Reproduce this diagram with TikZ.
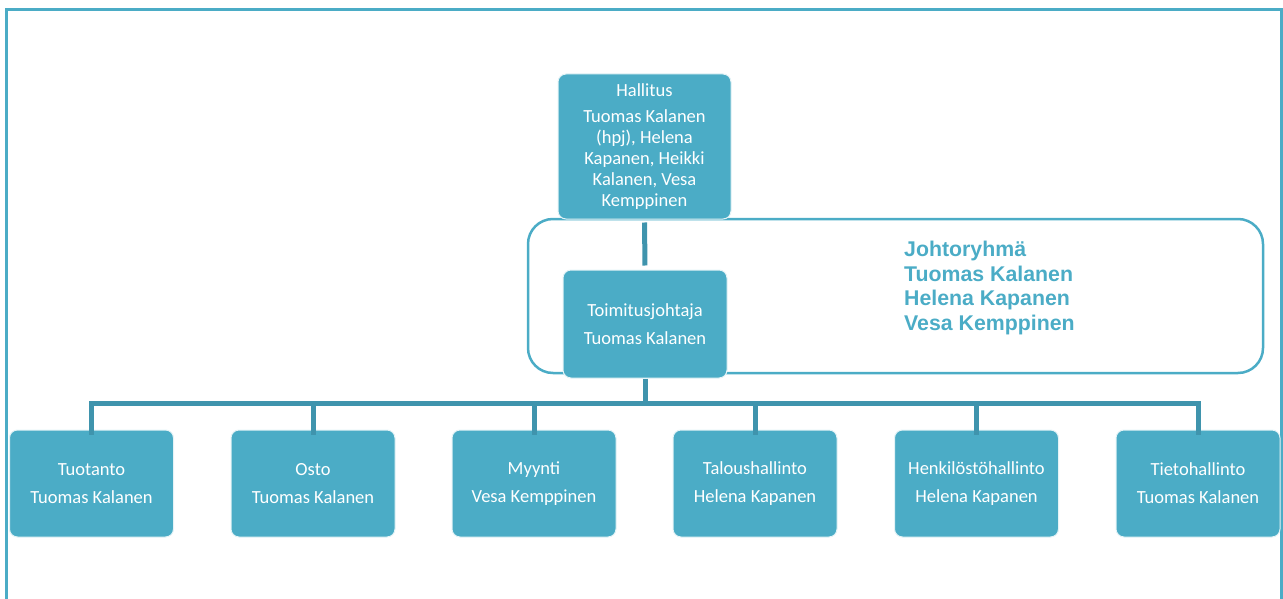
\documentclass[tikz,border=0pt]{standalone}
\usepackage{fontspec}
\setmainfont{Carlito}
\newfontfamily\arialfont{Liberation Sans}
\definecolor{boxblue}{HTML}{4BACC6}
\definecolor{connblue}{HTML}{3F94AD}
\begin{document}
\begin{tikzpicture}[x=1pt,y=-1pt,
  orgbox/.style={draw=white!85!boxblue, line width=1pt, fill=boxblue, rounded corners=8pt,
    text=white, align=center, inner sep=0pt,
    font=\fontsize{18.5}{21}\selectfont},
  childbox/.style={orgbox, minimum width=164pt, minimum height=107pt},
  conn/.style={draw=connblue, line width=5pt},
  frameline/.style={draw=boxblue, line width=2.5pt}
]
\useasboundingbox (0,0) rectangle (1283,599);
% outer frame
\draw[draw=boxblue, line width=2.5pt] (6.5,599) -- (6.5,9.5) -- (1281.5,9.5) -- (1281.5,599);
% Johtoryhma frame
\node[frameline, rounded corners=25pt, minimum width=735pt, minimum height=154pt, inner sep=0pt] (jr) at (895.5,296) {};
\node[anchor=west, align=left, text=boxblue, inner sep=0pt,
  font=\arialfont\bfseries\fontsize{21.3}{24.7}\selectfont] (jrtext) at (904,288)
  {Johtoryhmä\\Tuomas Kalanen\\Helena Kapanen\\Vesa Kemppinen};
% main boxes
\node[orgbox, minimum width=173pt, minimum height=145pt] (hall) at (644.5,146.5)
  {Hallitus\\[5pt]Tuomas Kalanen\\(hpj), Helena\\Kapanen, Heikki\\Kalanen, Vesa\\Kemppinen};
\node[orgbox, minimum width=164pt, minimum height=108pt] (tj) at (645,324)
  {Toimitusjohtaja\\[7pt]Tuomas Kalanen};
% children
\node[childbox] (c1) at (91.5,483.5) {Tuotanto\\[7pt]Tuomas Kalanen};
\node[childbox] (c2) at (313,483.5) {Osto\\[7pt]Tuomas Kalanen};
\node[childbox] (c3) at (534,483.5) {Myynti\\[7pt]Vesa Kemppinen};
\node[childbox] (c4) at (755,483.5) {Taloushallinto\\[7pt]Helena Kapanen};
\node[childbox] (c5) at (976.5,483.5) {Henkilöstöhallinto\\[7pt]Helena Kapanen};
\node[childbox] (c6) at (1198,483.5) {Tietohallinto\\[7pt]Tuomas Kalanen};
% connectors
\coordinate (bus) at (645,403.5);
\draw[conn, shorten <=3pt, shorten >=4pt] (hall.south) -- (tj.north);
\draw[conn] (tj.south) -- (bus);
\draw[conn, line join=miter] ([yshift=-5pt]c1.north) |- (bus) -| ([yshift=-5pt]c6.north);
\foreach \c in {c2,c3,c4,c5}
  \draw[conn] ([yshift=-5pt]\c.north) -- (\c.north |- bus);
\end{tikzpicture}
\end{document}
